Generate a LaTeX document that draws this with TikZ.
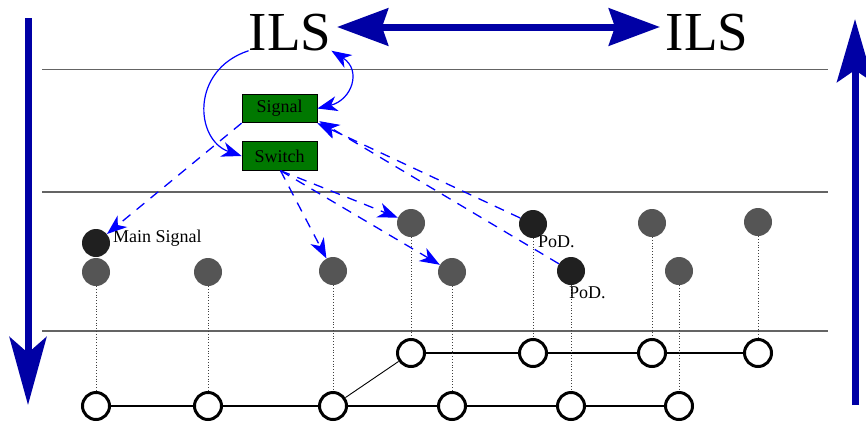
\documentclass[tikz,border=0pt]{standalone}
\usepackage{fontspec}
\setmainfont{Liberation Serif}
\usetikzlibrary{arrows.meta,calc}
\definecolor{navyarrow}{RGB}{0,0,165}
\definecolor{linkblue}{RGB}{0,0,255}
\definecolor{boxgreen}{RGB}{0,120,0}
\definecolor{sigfill}{RGB}{85,85,85}
\definecolor{podfill}{RGB}{32,32,32}
\definecolor{rulegray}{RGB}{100,100,100}
\begin{document}
\begin{tikzpicture}[x=1pt,y=-1pt,
  sidearrow/.style={navyarrow,line width=7pt},
  rule/.style={rulegray,line width=1.2pt},
  title/.style={inner sep=0pt,anchor=base,font=\fontsize{55}{60}\selectfont},
  boxnode/.style={draw=black,line width=0.8pt,fill=boxgreen,minimum width=75pt,minimum height=28.5pt,inner sep=0pt,font=\fontsize{18}{20}\selectfont},
  sigdot/.style={circle,fill=sigfill,minimum size=28pt,inner sep=0pt},
  poddot/.style={circle,fill=podfill,minimum size=28pt,inner sep=0pt},
  trackdot/.style={circle,draw=black,fill=white,line width=3pt,minimum size=27pt,inner sep=0pt},
  label/.style={inner sep=0pt,anchor=base west,font=\fontsize{18}{20}\selectfont},
  smalltip/.style={-{Stealth[length=20pt,width=15pt,inset=6pt]}},
  link/.style={linkblue,line width=1.2pt},
  dashlink/.style={linkblue,line width=1.3pt,dash pattern=on 10pt off 8pt},
  drop/.style={black!75,line width=0.7pt,dash pattern=on 0.8pt off 2pt},
  track/.style={black,line width=1.3pt}
]
\useasboundingbox (0,0) rectangle (866,423);

% direction arrows at the sides
\coordinate (ltop) at (28,18);
\coordinate (lbot) at (28,405);
\coordinate (rbot) at (855,405);
\coordinate (rtop) at (855,19);
\draw[sidearrow,-{Stealth[length=68pt,width=37pt,inset=16pt]}] (ltop) -- (lbot);
\draw[sidearrow,-{Stealth[length=63pt,width=36pt,inset=12pt]}] (rbot) -- (rtop);

% layer separators
\coordinate (r1a) at (42,69.5);  \coordinate (r1b) at (828,69.5);
\coordinate (r2a) at (42,192);   \coordinate (r2b) at (828,192);
\coordinate (r3a) at (42,331);   \coordinate (r3b) at (828,331);
\draw[rule] (r1a) -- (r1b);
\draw[rule] (r2a) -- (r2b);
\draw[rule] (r3a) -- (r3b);

% ILS headers
\node[title] (ilsA) at (290,50) {ILS};
\node[title] (ilsB) at (707,50) {ILS};
\coordinate (ilsAr) at (337,27);
\coordinate (ilsBl) at (660,27);
\draw[navyarrow,line width=7pt,{Stealth[length=51pt,width=37pt,inset=6pt]}-{Stealth[length=51pt,width=37pt,inset=6pt]}] (ilsAr) -- (ilsBl);

% element boxes
\node[boxnode] (sig) at (279.5,108.5) {Signal};
\node[boxnode] (sw) at (279.5,156) {Switch};

% signals and points of detection
\node[sigdot] (gA1) at (411,223) {};
\node[poddot] (pod1) at (533,224) {};
\node[sigdot] (gA2) at (652,223) {};
\node[sigdot] (gA3) at (758,222) {};
\node[poddot] (ms) at (96,243) {};
\node[sigdot] (gB1) at (96,272) {};
\node[sigdot] (gB2) at (208,272) {};
\node[sigdot] (gB3) at (333,271) {};
\node[sigdot] (gB4) at (452,272) {};
\node[poddot] (pod2) at (571,271) {};
\node[sigdot] (gB5) at (679,271) {};

\node[label] (msl) at (113,242) {Main Signal};
\node[label] (podl1) at (538,247) {PoD.};
\node[label] (podl2) at (569,298) {PoD.};

% track topology
\node[trackdot] (tU1) at (411,353) {};
\node[trackdot] (tU2) at (533,353) {};
\node[trackdot] (tU3) at (652,353) {};
\node[trackdot] (tU4) at (758,353) {};
\node[trackdot] (tL1) at (96,406) {};
\node[trackdot] (tL2) at (208,406) {};
\node[trackdot] (tL3) at (333,406) {};
\node[trackdot] (tL4) at (452,406) {};
\node[trackdot] (tL5) at (571,406) {};
\node[trackdot] (tL6) at (679,406) {};

\draw[track] (tL1) -- (tL2) -- (tL3) -- (tL4) -- (tL5) -- (tL6);
\draw[track] (tU1) -- (tU2) -- (tU3) -- (tU4);
\draw[black,line width=0.9pt] (tL3) -- (tU1);

% projections onto the topology
\draw[drop] (gA1) -- (tU1);
\draw[drop] (pod1) -- (tU2);
\draw[drop] (gA2) -- (tU3);
\draw[drop] (gA3) -- (tU4);
\draw[drop] (gB1) -- (tL1);
\draw[drop] (gB2) -- (tL2);
\draw[drop] (gB3) -- (tL3);
\draw[drop] (gB4) -- (tL4);
\draw[drop] (pod2) -- (tL5);
\draw[drop] (gB5) -- (tL6);

% control links
\draw[link,smalltip] (ilsA.south west) .. controls (190,70) and (195,140) .. (sw.west);
\draw[link,{Stealth[length=20pt,width=15pt,inset=6pt]}-{Stealth[length=20pt,width=15pt,inset=6pt]}] (ilsA.south east) .. controls (362,70) and (352,100) .. (sig.east);

\draw[dashlink,smalltip] (sig.south west) -- (ms);
\draw[dashlink,smalltip] ([xshift=1pt]sw.south) -- (gB3);
\draw[dashlink,smalltip] ([xshift=1pt]sw.south) -- (gA1);
\draw[dashlink,smalltip] ([xshift=1pt]sw.south) -- (gB4);
\draw[dashlink,smalltip] (pod1) -- (sig.south east);
\draw[dashlink,smalltip] (pod2) -- ([shift={(2pt,2pt)}]sig.south east);
\end{tikzpicture}
\end{document}
